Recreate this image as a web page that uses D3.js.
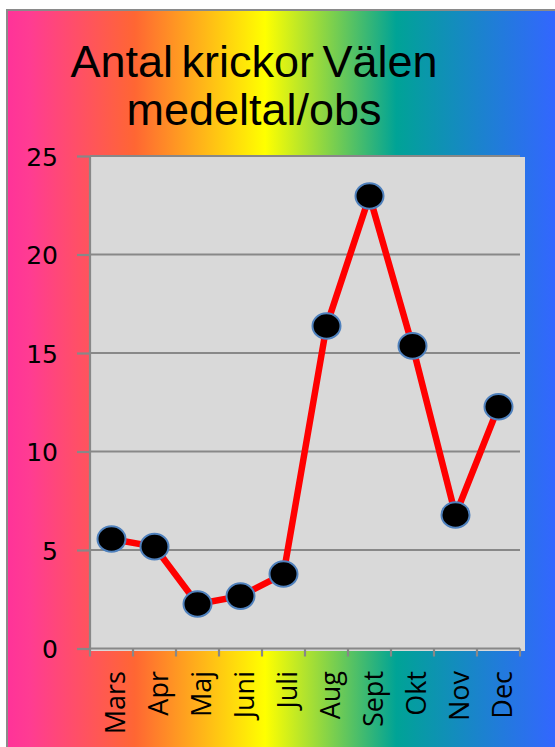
<!DOCTYPE html>
<html><head><meta charset="utf-8">
<script src="https://cdn.jsdelivr.net/npm/d3@7"></script>
<style>html,body{margin:0;padding:0;background:#fff;}svg{display:block;}</style>
</head><body>
<script>
const months = ["Mars","Apr","Maj","Juni","Juli","Aug","Sept","Okt","Nov","Dec"];
const values = [5.56,5.17,2.26,2.66,3.78,16.37,22.97,15.36,6.78,12.27];
const yTicks = [0,5,10,15,20,25];
const titleLines = ["Antal krickor Välen","medeltal/obs"];

const W=555,H=747;
const svg=d3.select("body").append("svg").attr("width",W).attr("height",H);
const defs=svg.append("defs");
const g=defs.append("linearGradient").attr("id","bg").attr("gradientUnits","userSpaceOnUse")
  .attr("x1",8).attr("x2",555).attr("y1",0).attr("y2",0);
[[0,"#ff3399"],[0.04,"#ff3c92"],[0.232,"#ff6633"],[0.47,"#ffff00"],[0.71,"#00a396"],[1,"#3366ff"]]
 .forEach(s=>g.append("stop").attr("offset",s[0]).attr("stop-color",s[1]));

svg.append("rect").attr("x",7).attr("y",10).attr("width",W).attr("height",H).attr("fill","url(#bg)")
  .attr("stroke","#8a8a8a").attr("stroke-width",2);

svg.selectAll("text.title").data(titleLines).join("text").attr("class","title")
  .attr("x",254).attr("y",(d,i)=>77+i*48).attr("text-anchor","middle")
  .attr("font-family","Liberation Sans, Arial, sans-serif").attr("font-size",45)
  .attr("word-spacing",-4).attr("fill","#000").text(d=>d);

const x=d3.scaleBand().domain(months).range([90,520]);
const y=d3.scaleLinear().domain([0,25]).range([648.5,156]);

svg.append("rect").attr("x",91).attr("y",157).attr("width",525-91).attr("height",651-157).attr("fill","#d9d9d9");

// gridlines
svg.append("g").selectAll("line").data(yTicks.filter(d=>d>0)).join("line")
  .attr("x1",90).attr("x2",520).attr("y1",d=>y(d)).attr("y2",d=>y(d))
  .attr("stroke","#888").attr("stroke-width",2.2);

// y axis
const ya=svg.append("g").attr("transform","translate(90,0)")
  .call(d3.axisLeft(y).tickValues(yTicks).tickSize(13).tickPadding(8).tickFormat(d3.format("d")));
ya.selectAll("path,line").attr("stroke","#888").attr("stroke-width",2.2);
ya.select("path").attr("d","M0,"+y(0)+"V"+y(25));
ya.selectAll("text").attr("font-family","DejaVu Sans, sans-serif").attr("font-size",25).attr("fill","#000")
  .attr("x",-32).attr("dy","0.36em");

// x axis
const xa=svg.append("g").attr("transform","translate(0,"+y(0)+")")
  .call(d3.axisBottom(x).tickSize(0).tickFormat(""));
xa.select("path").attr("stroke","#888").attr("stroke-width",2.2).attr("d","M90,0H520");
xa.selectAll(".tick").remove();
svg.append("g").selectAll("line").data(months.concat(["_end"])).join("line")
  .attr("x1",(d,i)=>i<months.length?x(d):x.range()[1]).attr("x2",(d,i)=>i<months.length?x(d):x.range()[1])
  .attr("y1",y(0)).attr("y2",y(0)+8).attr("stroke","#888").attr("stroke-width",2.2);
svg.append("g").selectAll("text").data(months).join("text")
  .attr("transform",d=>`translate(${x(d)+x.bandwidth()/2+3},671) rotate(-90)`)
  .attr("text-anchor","end").attr("dominant-baseline","central")
  .attr("font-family","Open Sans, DejaVu Sans, sans-serif").attr("font-size",27).attr("fill","#000").text(d=>d);

// line
const line=d3.line().x((d,i)=>x(months[i])+x.bandwidth()/2).y(d=>y(d));
svg.append("path").datum(values).attr("d",line).attr("fill","none").attr("stroke","#ff0000")
  .attr("stroke-width",6.5).attr("stroke-linejoin","round");
svg.append("g").selectAll("ellipse").data(values).join("ellipse")
  .attr("cx",(d,i)=>x(months[i])+x.bandwidth()/2).attr("cy",d=>y(d))
  .attr("rx",14).attr("ry",12.8).attr("fill","#000").attr("stroke","#4f81bd").attr("stroke-width",2);
</script>
</body></html>
